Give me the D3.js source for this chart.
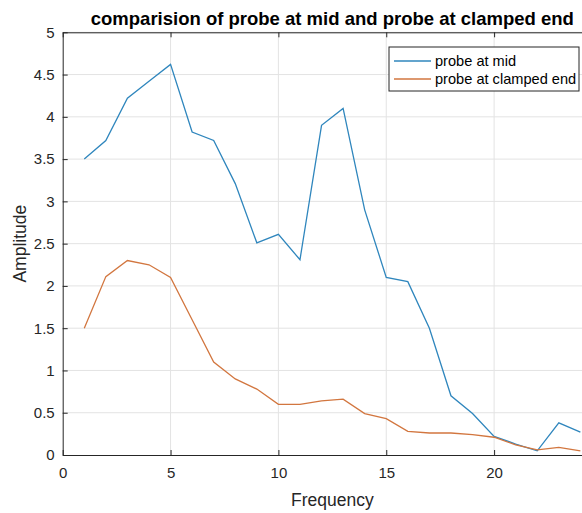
<!DOCTYPE html>
<html>
<head>
<meta charset="utf-8">
<script src="https://cdn.jsdelivr.net/npm/d3@7"></script>
<style>
  body { margin: 0; background: #fff; }
  svg { display: block; font-family: 'Liberation Sans', Arial, sans-serif; }
</style>
</head>
<body>
<div class="canvas"></div>
<script>
// data
const frequency = [1, 2, 3, 4, 5, 6, 7, 8, 9, 10, 11, 12, 13, 14, 15, 16, 17, 18, 19, 20, 21, 22, 23, 24];
const probeMid = [3.5, 3.72, 4.22, 4.42, 4.62, 3.82, 3.72, 3.21, 2.51, 2.61, 2.31, 3.9, 4.1, 2.9, 2.1, 2.05, 1.5, 0.7, 0.49, 0.22, 0.13, 0.05, 0.38, 0.27];
const probeClamped = [1.5, 2.11, 2.3, 2.25, 2.1, 1.6, 1.1, 0.9, 0.78, 0.6, 0.6, 0.64, 0.66, 0.49, 0.43, 0.28, 0.26, 0.26, 0.24, 0.21, 0.12, 0.06, 0.09, 0.05];
const xTicks = [0, 5, 10, 15, 20];
const yTicks = [0, 0.5, 1, 1.5, 2, 2.5, 3, 3.5, 4, 4.5, 5];
const seriesNames = ['probe at mid', 'probe at clamped end'];
const colors = ['#2f86bd', '#d2763f'];

// set up dimensions (the axes run to 25 but the picture is cut at 582)
const width = 582;
const height = 513;
const margin = { top: 32.3, left: 62.7 };
const graphWidth = 25 * 21.57;
const graphHeight = 455 - margin.top;

const svg = d3
  .select('.canvas')
  .append('svg')
  .attr('width', width)
  .attr('height', height);

const graph = svg
  .append('g')
  .attr('transform', `translate(${margin.left}, ${margin.top})`);

// scales
const x = d3.scaleLinear().domain([0, 25]).range([0, graphWidth]);
const y = d3.scaleLinear().domain([0, 5]).range([graphHeight, 0]);

// grid lines
graph
  .append('g')
  .selectAll('line')
  .data(xTicks.slice(1))
  .enter()
  .append('line')
  .attr('x1', d => x(d))
  .attr('x2', d => x(d))
  .attr('y1', 0)
  .attr('y2', graphHeight)
  .attr('stroke', '#e3e3e3');

graph
  .append('g')
  .selectAll('line')
  .data(yTicks.slice(1))
  .enter()
  .append('line')
  .attr('x1', 0)
  .attr('x2', graphWidth)
  .attr('y1', d => y(d))
  .attr('y2', d => y(d))
  .attr('stroke', '#e3e3e3');

// axes (ticks point inwards like matlab)
const xAxis = d3.axisBottom(x).tickValues(xTicks).tickSizeInner(-5).tickSizeOuter(0).tickPadding(12);
const yAxis = d3.axisLeft(y).tickValues(yTicks).tickSizeInner(-5).tickSizeOuter(0).tickPadding(8)
  .tickFormat(d => String(d));
const xTop = d3.axisTop(x).tickValues(xTicks).tickSizeInner(-5).tickSizeOuter(0).tickFormat('');

const xAxisGroup = graph.append('g').attr('transform', `translate(0, ${graphHeight})`).call(xAxis);
const yAxisGroup = graph.append('g').call(yAxis);
const topGroup = graph.append('g').call(xTop);

[xAxisGroup, yAxisGroup, topGroup].forEach(g => {
  g.select('.domain').attr('stroke', '#262626');
  g.selectAll('.tick line').attr('stroke', '#262626');
  g.selectAll('text')
    .attr('fill', '#262626')
    .style('font-size', '15px')
    .style('font-family', "'Liberation Sans', Arial, sans-serif");
});

// line path generator
const line = d3
  .line()
  .x((d, i) => x(frequency[i]))
  .y(d => y(d));

[probeMid, probeClamped].forEach((series, i) => {
  graph
    .append('path')
    .datum(series)
    .attr('fill', 'none')
    .attr('stroke', colors[i])
    .attr('stroke-width', 1.3)
    .attr('d', line);
});

// title and axis labels
svg
  .append('text')
  .attr('x', margin.left + graphWidth / 2)
  .attr('y', 25)
  .attr('text-anchor', 'middle')
  .style('font-size', '18.5px')
  .style('font-weight', 'bold')
  .attr('fill', '#000')
  .text('comparision of probe at mid and probe at clamped end');

svg
  .append('text')
  .attr('x', margin.left + graphWidth / 2)
  .attr('y', 506)
  .attr('text-anchor', 'middle')
  .style('font-size', '17.5px')
  .attr('fill', '#262626')
  .text('Frequency');

svg
  .append('text')
  .attr('transform', `translate(26, ${margin.top + graphHeight / 2}) rotate(-90)`)
  .attr('text-anchor', 'middle')
  .style('font-size', '17.5px')
  .attr('fill', '#262626')
  .text('Amplitude');

// legend
const legend = svg.append('g').attr('transform', 'translate(389, 47)');
legend
  .append('rect')
  .attr('width', 190)
  .attr('height', 44)
  .attr('fill', '#fff')
  .attr('stroke', '#262626');

seriesNames.forEach((name, i) => {
  const row = legend.append('g').attr('transform', `translate(0, ${14 + i * 18})`);
  row
    .append('line')
    .attr('x1', 5)
    .attr('x2', 42)
    .attr('stroke', colors[i])
    .attr('stroke-width', 1.3);
  row
    .append('text')
    .attr('x', 46)
    .attr('y', 5)
    .style('font-size', '14.6px')
    .attr('fill', '#000')
    .text(name);
});
</script>
</body>
</html>
